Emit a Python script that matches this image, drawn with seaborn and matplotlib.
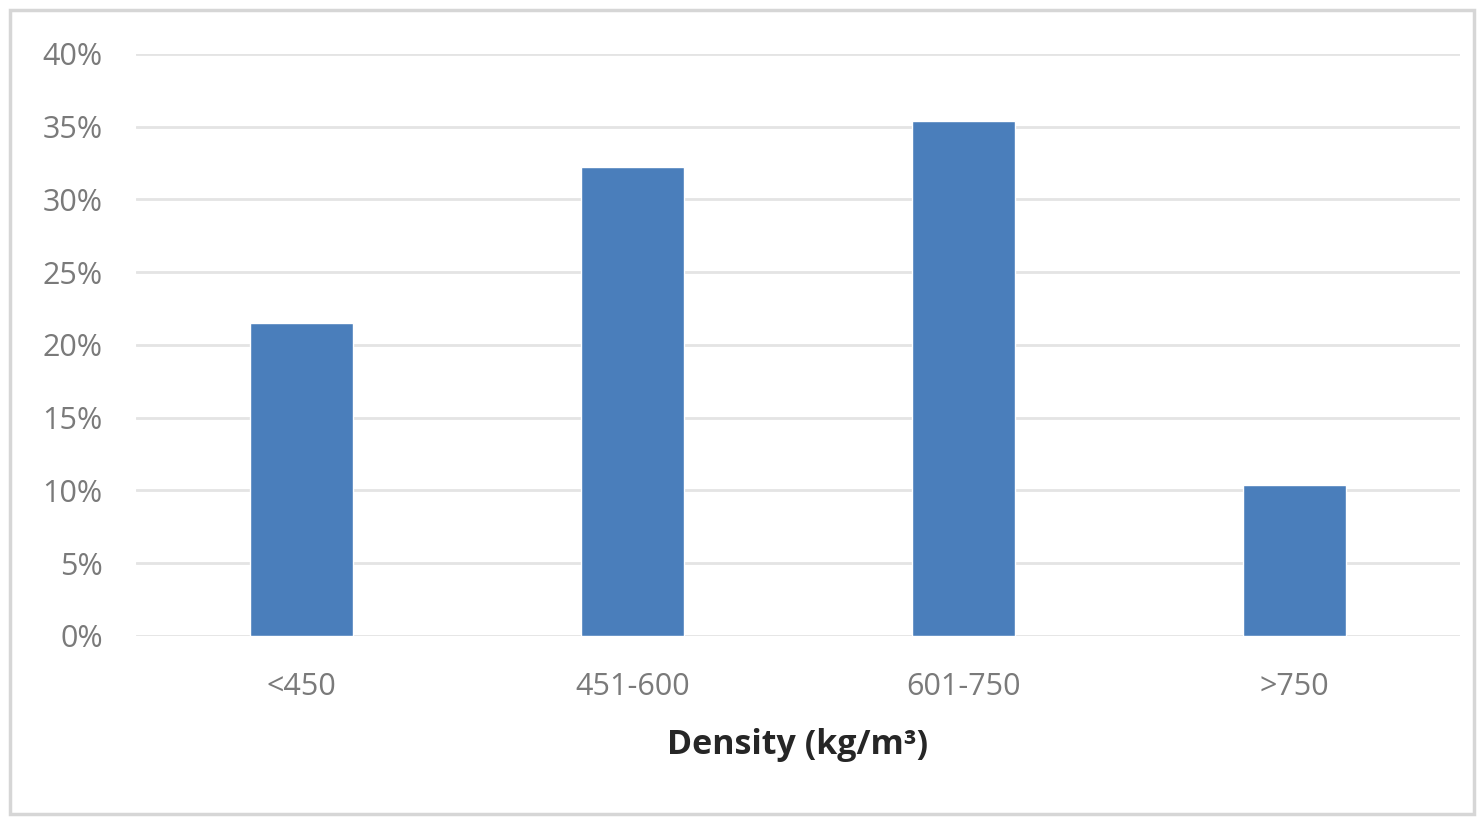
import seaborn as sns
import matplotlib.pyplot as plt
from matplotlib.patches import Rectangle
from matplotlib.ticker import PercentFormatter

categories = ["<450", "451-600", "601-750", ">750"]
shares = [21.5, 32.2, 35.4, 10.4]

sns.set_theme(style="white")
plt.rcParams['font.family'] = ['Open Sans', 'DejaVu Sans']

fig = plt.figure(figsize=(14.83, 8.18), dpi=100)
ax = fig.add_axes([0.0917, 0.2225, 0.8928, 0.7115])

# outer chart frame
fig.patches.append(Rectangle((0.007, 0.005), 0.987, 0.983, transform=fig.transFigure,
                             fill=False, edgecolor="#d6d6d6", linewidth=2.5))

sns.barplot(x=categories, y=shares, color="#4a7ebb", saturation=1, width=0.31, ax=ax, zorder=3)

ax.set_ylim(0, 40)
ax.set_yticks(range(0, 41, 5))
ax.yaxis.set_major_formatter(PercentFormatter(decimals=0))
ax.grid(axis="y", color="#e4e4e4", linewidth=2, zorder=0)
ax.set_axisbelow(True)
for s in ax.spines.values():
    s.set_visible(False)
ax.tick_params(axis="both", length=0, labelsize=22, labelcolor="#7a7a7a")
ax.tick_params(axis="y", pad=24)
ax.tick_params(axis="x", pad=26)
ax.set_xlabel("Density (kg/m³)", fontsize=24.5, fontweight="bold", color="#262626", labelpad=19)
ax.set_ylabel("")

fig.savefig("out.png", dpi=100)
